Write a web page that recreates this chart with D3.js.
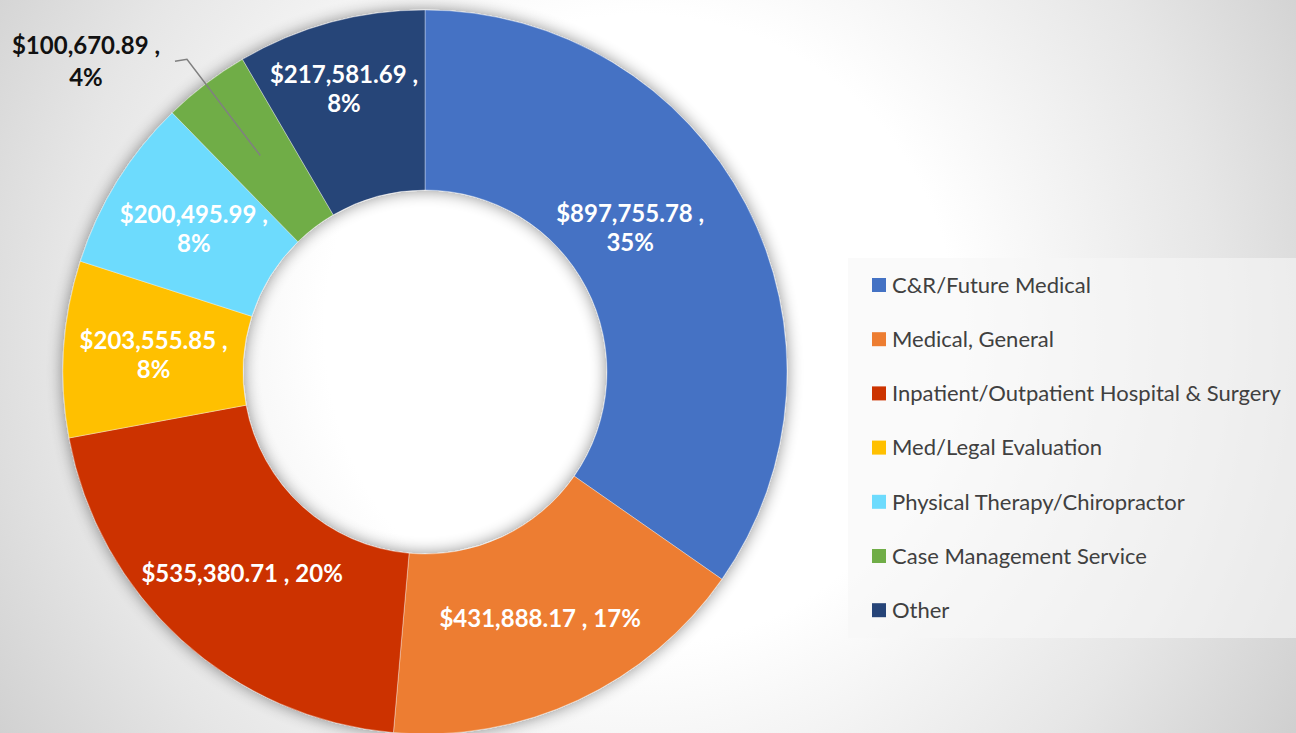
<!DOCTYPE html>
<html>
<head>
<meta charset="utf-8">
<script src="https://cdn.jsdelivr.net/npm/d3@7"></script>
<style>
  html, body { margin: 0; padding: 0; background: #fff; }
  #chart { width: 1296px; height: 733px; overflow: hidden; }
</style>
</head>
<body>
<div id="chart"></div>
<script>
// values
const categories = [
  "C&R/Future Medical",
  "Medical, General",
  "Inpatient/Outpatient Hospital & Surgery",
  "Med/Legal Evaluation",
  "Physical Therapy/Chiropractor",
  "Case Management Service",
  "Other"
];
const amounts = [897755.78, 431888.17, 535380.71, 203555.85, 200495.99, 100670.89, 217581.69];
const percents = [35, 17, 20, 8, 8, 4, 8];   // as printed on the chart
const colors = ["#4472C4", "#ED7D31", "#CC3300", "#FFC000", "#6DDBFD", "#70AD47", "#264478"];

const width = 1296;
const height = 733;
const cx = 425, cy = 372;
const outerR = 362, innerR = 182;
const labelR = 272;

const money = d3.format(",.2f");

const svg = d3.select("#chart")
      .append("svg")
      .attr("width", width)
      .attr("height", height);

const defs = svg.append("defs");

// slide background, soft radial light
const bg = defs.append("radialGradient")
      .attr("id", "bg")
      .attr("gradientUnits", "userSpaceOnUse")
      .attr("cx", 640).attr("cy", 330).attr("r", 830);
bg.append("stop").attr("offset", 0).attr("stop-color", "#ffffff");
bg.append("stop").attr("offset", 0.38).attr("stop-color", "#ffffff");
bg.append("stop").attr("offset", 0.7).attr("stop-color", "#e6e6e6");
bg.append("stop").attr("offset", 1).attr("stop-color", "#c8c8c8");

// outer shadow of the donut (shows inside the hole too)
const f = defs.append("filter").attr("id", "shadow")
      .attr("x", "-20%").attr("y", "-20%").attr("width", "140%").attr("height", "140%");
f.append("feGaussianBlur").attr("in", "SourceAlpha").attr("stdDeviation", 8).attr("result", "blur");
f.append("feComponentTransfer").attr("in", "blur").attr("result", "soft")
  .append("feFuncA").attr("type", "linear").attr("slope", 0.45);
const merge = f.append("feMerge");
merge.append("feMergeNode").attr("in", "soft");
merge.append("feMergeNode").attr("in", "SourceGraphic");

svg.append("rect")
  .attr("width", width).attr("height", height)
  .attr("fill", "url(#bg)");

const data = categories.map((c, i) => ({name: c, value: amounts[i], pct: percents[i], color: colors[i]}));

const pie = d3.pie()
      .value(d => d.value)
      .sort(null)
      .startAngle(0)
      .endAngle(2 * Math.PI);

const arcs = pie(data);

const arc = d3.arc().innerRadius(innerR).outerRadius(outerR);
const labelArc = d3.arc().innerRadius(labelR).outerRadius(labelR);

const g = svg.append("g").attr("transform", `translate(${cx},${cy})`);

g.append("g")
  .attr("filter", "url(#shadow)")
  .selectAll("path")
  .data(arcs)
  .enter().append("path")
  .attr("d", arc)
  .attr("fill", d => d.data.color)
  .attr("stroke", "rgba(255,255,255,0.45)")
  .attr("stroke-width", 0.8);

// label nudges (Excel moved a couple of labels off the centroid)
const nudge = {"C&R/Future Medical": [-36, -18], "Other": [-10, -21]};

const fontSize = 24, lineGap = 29;
const labels = g.append("g")
      .attr("font-family", "Lato, 'Open Sans', sans-serif")
      .attr("font-weight", "bold")
      .attr("font-size", fontSize)
      .attr("text-anchor", "middle");

arcs.forEach(d => {
  const pct = d.data.pct + "%";
  const amt = "$" + money(d.data.value) + " ,";
  const span = d.endAngle - d.startAngle;
  const mid = (d.startAngle + d.endAngle) / 2;
  const small = span < 0.3;
  let [x, y] = labelArc.centroid(d);
  const n = nudge[d.data.name] || [0, 0];
  x += n[0]; y += n[1];
  let lines;
  if (span > 0.95 && Math.cos(mid) < 0) lines = [amt + " " + pct];
  else lines = [amt, pct];

  let fill = "#fff";
  let gap = lineGap;
  if (small) {
    // outside label with leader line
    const elbow = [(outerR + 31) * Math.sin(mid), -(outerR + 31) * Math.cos(mid)];
    const start = [elbow[0] - 12, elbow[1] + 2];
    g.append("path")
      .attr("d", d3.line()([[x, y], elbow, start]))
      .attr("fill", "none")
      .attr("stroke", "#808080")
      .attr("stroke-width", 1.5);
    x = start[0] - 89;
    y = start[1];
    fill = "#111";
    gap = 32;
  }
  const t = labels.append("text").attr("fill", fill);
  const off = -(lines.length - 1) * gap / 2;
  lines.forEach((s, i) => {
    t.append("tspan")
      .attr("x", x)
      .attr("y", y + off + i * gap + fontSize * 0.36)
      .text(s);
  });
});

// legend
const legX = 848, legY = 258, rowH = 54.2;
const leg = svg.append("g");
leg.append("rect")
  .attr("x", legX).attr("y", legY)
  .attr("width", width - legX).attr("height", 380)
  .attr("fill", "#f7f7f7").attr("fill-opacity", 0.6);

const rows = leg.selectAll("g.row")
      .data(data)
      .enter().append("g")
      .attr("class", "row")
      .attr("transform", (d, i) => `translate(${legX + 24},${legY + 27 + i * rowH})`);

rows.append("rect")
  .attr("x", 0).attr("y", -7)
  .attr("width", 14).attr("height", 14)
  .attr("fill", d => d.color);

rows.append("text")
  .attr("x", 20).attr("y", 7.8)
  .attr("font-family", "Lato, 'Open Sans', sans-serif")
  .attr("font-size", 22)
  .attr("fill", "#404040")
  .text(d => d.name);
</script>
</body>
</html>
